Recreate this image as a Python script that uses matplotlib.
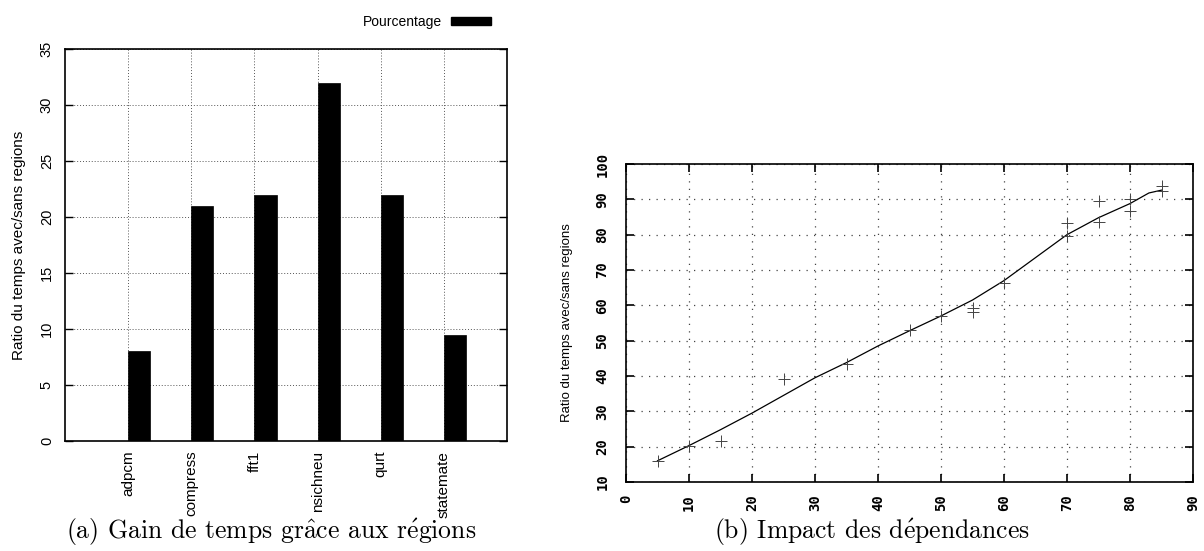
import matplotlib
matplotlib.use("Agg")
import matplotlib.pyplot as plt
from matplotlib.patches import Patch

plt.rcParams["mathtext.fontset"] = "cm"
plt.rcParams["axes.unicode_minus"] = False

W, H = 1204, 551
DPI = 100

# --- left panel: time gain per benchmark ---
benchmarks = ["adpcm", "compress", "fft1", "nsichneu", "qurt", "statemate"]
pourcentage = [8, 21, 22, 32, 22, 9.5]
left_yticks = [0, 5, 10, 15, 20, 25, 30, 35]

# --- right panel: impact of dependencies ---
dep_x = [5, 10, 15, 25, 35, 45, 50, 55, 55, 60, 70, 70, 75, 75, 80, 80, 85, 85]
dep_y = [16, 20.3, 21.7, 39.2, 43.3, 53, 57, 58, 59.3, 66.4, 79.7, 83.4,
         83.6, 89.5, 86.7, 90.2, 92.3, 93.9]
trend_x = [5, 10, 15, 20, 25, 30, 35, 40, 45, 50, 55, 60, 65, 70, 75, 80, 83, 85]
trend_y = [16, 20.3, 24.8, 29.5, 34.5, 39.5, 43.8, 48.5, 52.8, 57, 61.5, 67,
           73.5, 80, 84.8, 88.8, 91.8, 92.6]
right_xticks = list(range(0, 91, 10))
right_yticks = list(range(10, 101, 10))

# Captions use Computer Modern; accented letters go through mathtext (cm)
caption_a = r"(a) Gain de temps gr$\hat{\mathrm{a}}$ce aux r$\acute{\mathrm{e}}$gions"
caption_b = r"(b) Impact des d$\acute{\mathrm{e}}$pendances"
ylabel = "Ratio du temps avec/sans regions"
legend_label = "Pourcentage"

sans = ["Liberation Sans", "DejaVu Sans"]
serif = ["cmr10", "DejaVu Serif"]


def box(l, r, t, b):
    return [l / W, (H - b) / H, (r - l) / W, (b - t) / H]


fig = plt.figure(figsize=(W / DPI, H / DPI), dpi=DPI)

# Left panel
ax1 = fig.add_axes(box(65, 507, 49, 441))
xpos = list(range(len(benchmarks)))
bars = ax1.bar(xpos, pourcentage, width=0.35, align="edge", color="black",
               edgecolor="black", linewidth=0.5, zorder=3)
ax1.set_xlim(-1, 6)
ax1.set_ylim(0, 35)
ax1.set_xticks(xpos)
ax1.set_xticklabels(benchmarks, rotation=90, family=sans, fontsize=11)
ax1.set_yticks(left_yticks)
ax1.set_yticklabels([str(v) for v in left_yticks], rotation=90, va="center",
                    family=sans, fontsize=10.5)
ax1.grid(True, color="#555555", linestyle=(0, (1, 2)), linewidth=0.7, zorder=0)
ax1.tick_params(direction="in", length=6, width=1, top=True, right=True,
                pad=8)
ax1.tick_params(axis="x", length=0, pad=7)
for s in ax1.spines.values():
    s.set_linewidth(1.2)
ax1.set_ylabel(ylabel, family=sans, fontsize=11, labelpad=10)

fig.legend([Patch(facecolor="black", edgecolor="black")], [legend_label],
           loc="upper right", bbox_to_anchor=(498 / W, 1 - 8 / H),
           frameon=False, markerfirst=False, handlelength=2.9,
           handleheight=0.55, borderpad=0, handletextpad=0.6,
           prop={"family": sans, "size": 10})

# Right panel
ax2 = fig.add_axes(box(626, 1193, 164, 482))
ax2.plot(trend_x, trend_y, color="black", linewidth=0.9, zorder=3)
ax2.plot(dep_x, dep_y, linestyle="none", marker="+", markersize=8,
         markeredgewidth=0.7, color="#444444", zorder=4)
ax2.set_xlim(0, 90)
ax2.set_ylim(10, 100)
ax2.set_xticks(right_xticks)
ax2.set_yticks(right_yticks)
mono = {"family": ["DejaVu Sans Mono"], "fontweight": "bold", "fontsize": 10}
ax2.set_xticklabels([str(v) for v in right_xticks], rotation=90, **mono)
ax2.set_yticklabels([str(v) for v in right_yticks], rotation=90, va="center",
                    **mono)
ax2.grid(True, color="#444444", linestyle=(0, (1, 5)), linewidth=0.9,
         zorder=0)
ax2.tick_params(direction="in", length=6, width=1.2, top=True, right=True,
                pad=12)
ax2.tick_params(axis="x", pad=9)
for s in ax2.spines.values():
    s.set_linewidth(1.2)
ax2.set_ylabel(ylabel, family=sans, fontsize=9.5, labelpad=16)

# Captions
fig.text(271 / W, 1 - 532 / H, caption_a, ha="center", va="center",
         family=serif, fontsize=18.5)
fig.text(872 / W, 1 - 532 / H, caption_b, ha="center", va="center",
         family=serif, fontsize=18.5)

fig.savefig("out.png", dpi=DPI, facecolor="white")
